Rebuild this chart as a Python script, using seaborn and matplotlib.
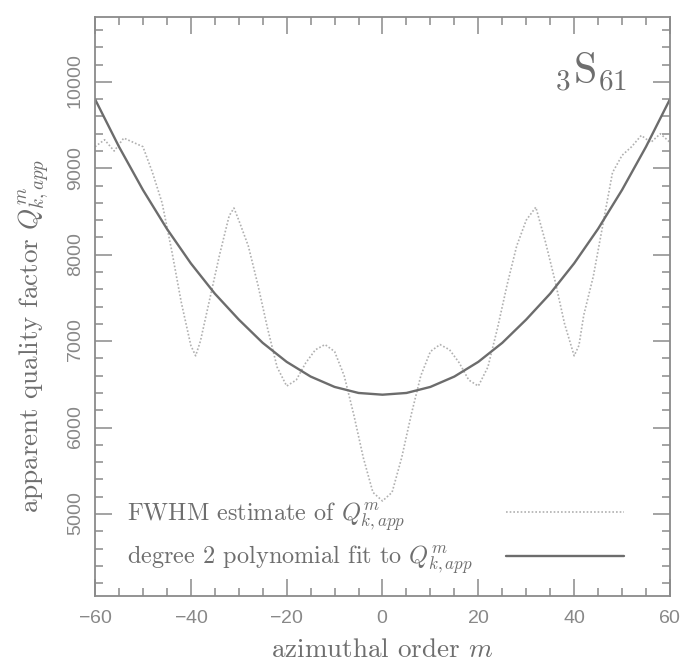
import numpy as np
import pandas as pd
import matplotlib
matplotlib.use("Agg")
import matplotlib.pyplot as plt
import seaborn as sns

# ---- data ----
m_fwhm = [-60, -58, -56, -54, -52, -50, -48, -46, -44, -42, -40, -39, -38, -36, -34,
          -32, -31, -30, -28, -26, -24, -22, -20, -18, -16, -14, -12, -10, -8, -6,
          -4, -2, 0, 2, 4, 6, 8, 10, 12, 14, 16, 18, 20, 22, 24, 26, 28, 30, 32,
          34, 36, 38, 40, 41, 42, 44, 46, 48, 50, 52, 54, 56, 58, 60]
q_fwhm = [9250, 9330, 9200, 9350, 9300, 9250, 8950, 8600, 8050, 7450, 6950, 6830, 7000, 7500, 8000,
          8450, 8540, 8400, 8100, 7650, 7150, 6700, 6480, 6550, 6750, 6900, 6960, 6880, 6600, 6150,
          5650, 5250, 5150, 5250, 5650, 6150, 6600, 6880, 6960, 6900, 6750, 6550, 6480, 6700, 7150,
          7650, 8100, 8400, 8550, 8150, 7700, 7200, 6830, 6950, 7300, 7750, 8350, 8950, 9150, 9250,
          9380, 9300, 9400, 9300]

m_fit = [-60, -55, -50, -45, -40, -35, -30, -25, -20, -15, -10, -5, 0,
         5, 10, 15, 20, 25, 30, 35, 40, 45, 50, 55, 60]
q_fit = [9800, 9250, 8750, 8300, 7900, 7550, 7250, 6980, 6760, 6590, 6470, 6400, 6380,
         6400, 6470, 6590, 6760, 6980, 7250, 7550, 7900, 8300, 8750, 9250, 9800]

label_fwhm = r"FWHM estimate of $Q^m_{k,app}$"
label_fit = r"degree 2 polynomial fit to $Q^m_{k,app}$"
x_label = r"azimuthal order $m$"
y_label = r"apparent quality factor $Q^m_{k,app}$"
mode_label = r"${}_3\mathrm{S}_{61}$"

sns.set_theme(style="ticks")
plt.rcParams["font.family"] = ["cmr10", "DejaVu Serif"]
plt.rcParams["mathtext.fontset"] = "cm"
plt.rcParams["axes.formatter.use_mathtext"] = True

df_fwhm = pd.DataFrame({"m": m_fwhm, "Q": q_fwhm})
df_fit = pd.DataFrame({"m": m_fit, "Q": q_fit})

fig = plt.figure(figsize=(6.95, 6.67), dpi=100)
ax = fig.add_axes([0.1367, 0.1064, 0.8273, 0.868])

axis_col = "#8a8a8a"
text_col = "#6e6e6e"

sns.lineplot(data=df_fwhm, x="m", y="Q", ax=ax, color="#b0b0b0", lw=1.2,
             linestyle=(0, (1, 1.2)), label=label_fwhm)
sns.lineplot(data=df_fit, x="m", y="Q", ax=ax, color="#6c6c6c", lw=1.7,
             label=label_fit)

ax.set_xlim(-60, 60)
ax.set_ylim(4050, 10750)
ax.set_xticks([-60, -40, -20, 0, 20, 40, 60])
ax.set_xticks(np.arange(-60, 61, 5), minor=True)
ax.set_yticks([5000, 6000, 7000, 8000, 9000, 10000])
ax.set_yticks(np.arange(4200, 10750, 200), minor=True)

for s in ax.spines.values():
    s.set_color(axis_col)
    s.set_linewidth(1.3)

ax.tick_params(which="both", direction="in", top=True, right=True, color=axis_col, width=1.1)
ax.tick_params(which="major", length=12, labelsize=14, labelcolor="#888888")
ax.tick_params(axis="x", which="major", pad=10)
ax.tick_params(axis="y", which="major", pad=7)
ax.tick_params(which="minor", length=6)
for lab in ax.get_xticklabels() + ax.get_yticklabels():
    lab.set_family(["Liberation Sans", "DejaVu Sans"])
for lab in ax.get_yticklabels():
    lab.set_rotation(90)
    lab.set_va("center")

ax.set_xlabel(x_label, fontsize=19.5, color=text_col, labelpad=8)
ax.set_ylabel(y_label, fontsize=19.5, color=text_col)
ax.yaxis.set_label_coords(-0.077, 0.45)

ax.text(0.925, 0.905, mode_label, transform=ax.transAxes, ha="right", va="center",
        fontsize=30, color=text_col)

leg = ax.legend(loc="lower left", bbox_to_anchor=(0.056, 0.034), frameon=False,
                markerfirst=False, handlelength=4.85, handletextpad=1.35,
                fontsize=17.5, labelspacing=0.45, borderpad=0, borderaxespad=0)
for t in leg.get_texts():
    t.set_color(text_col)

# left-align legend texts while keeping the line samples in one column
fig.canvas.draw()
renderer = fig.canvas.get_renderer()
column = leg._legend_handle_box.get_children()[0]
column.align = "left"
rows = column.get_children()
widths = [row.get_children()[0].get_window_extent(renderer).width for row in rows]
maxw = max(widths)
for row, w in zip(rows, widths):
    row.sep = row.sep + (maxw - w) * 72.0 / fig.dpi

fig.savefig("out.png", dpi=100, facecolor="white")
